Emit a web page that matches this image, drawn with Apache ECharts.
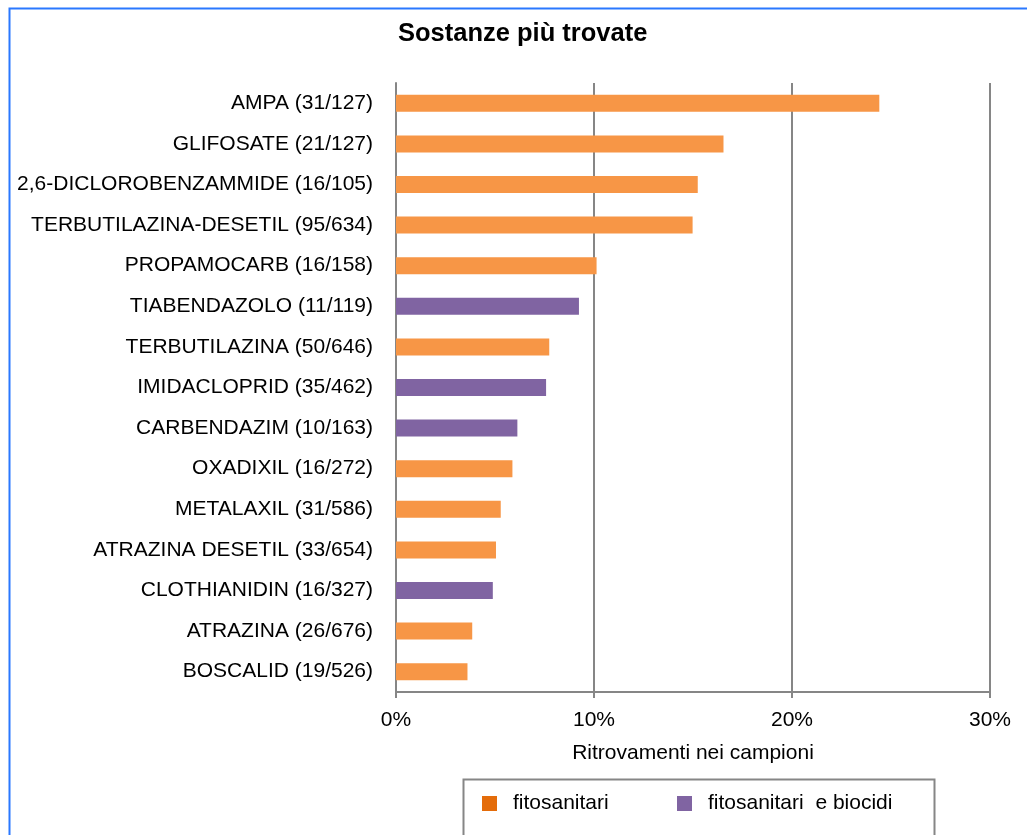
<!DOCTYPE html>
<html>
<head>
<meta charset="utf-8">
<title>Sostanze più trovate</title>
<script src="https://cdn.jsdelivr.net/npm/echarts@6/dist/echarts.min.js"></script>
<style>
  html, body { margin: 0; padding: 0; background: #fff; }
  #main { width: 1027px; height: 835px; }
</style>
</head>
<body>
<div id="main"></div>
<script>
var FONT = '"Liberation Sans", Arial, sans-serif'

// sostanze, dall'alto in basso
var categorie = ['AMPA (31/127)', 'GLIFOSATE (21/127)', '2,6-DICLOROBENZAMMIDE (16/105)',
  'TERBUTILAZINA-DESETIL (95/634)', 'PROPAMOCARB (16/158)', 'TIABENDAZOLO (11/119)',
  'TERBUTILAZINA (50/646)', 'IMIDACLOPRID (35/462)', 'CARBENDAZIM (10/163)',
  'OXADIXIL (16/272)', 'METALAXIL (31/586)', 'ATRAZINA DESETIL (33/654)',
  'CLOTHIANIDIN (16/327)', 'ATRAZINA (26/676)', 'BOSCALID (19/526)']

// % ritrovamenti, '-' dove la sostanza appartiene all'altro gruppo
var fitosanitari = [24.41, 16.54, 15.24, 14.98, 10.13, '-', 7.74, '-', '-', 5.88, 5.29, 5.05, '-', 3.85, 3.61]
var fitoBiocidi  = ['-', '-', '-', '-', '-', 9.24, '-', 7.58, 6.13, '-', '-', '-', 4.89, '-', '-']

var xTicks = [0, 10, 20, 30]

var myChart = echarts.init(document.getElementById('main'))

var grigio = '#868686'

var option = {
  backgroundColor: '#fff',
  animation: false,
  title: {
    text: 'Sostanze più trovate',
    left: 398,
    top: 21,
    padding: 0,
    textStyle: { fontFamily: FONT, fontSize: 25.5, fontWeight: 'bold', color: '#000' }
  },
  graphic: [
    { type: 'rect', left: 7, top: 6, silent: true,
      shape: { x: 0, y: 0, width: 1100, height: 1000 },
      style: { fill: 'none', stroke: '#2a78ff', lineWidth: 2 } },
    { type: 'rect', left: 461, top: 777, silent: true,
      shape: { x: 0, y: 0, width: 471, height: 57 },
      style: { fill: 'none', stroke: grigio, lineWidth: 2 } }
  ],
  legend: [
    { data: [{ name: 'fitosanitari', itemStyle: { color: '#E46C0A' } }],
      left: 482, top: 793, padding: 0, itemWidth: 15, itemHeight: 15, icon: 'rect',
      textStyle: { fontFamily: FONT, fontSize: 21, color: '#000', padding: [0, 0, 0, 11] } },
    { data: [{ name: 'fitosanitari  e biocidi', itemStyle: { color: '#8064A2' } }],
      left: 677, top: 793, padding: 0, itemWidth: 15, itemHeight: 15, icon: 'rect',
      textStyle: { fontFamily: FONT, fontSize: 21, color: '#000', padding: [0, 0, 0, 11] } }
  ],
  grid: { left: 396, right: 37, top: 83, bottom: 143, outerBoundsMode: 'none', containLabel: false },
  xAxis: {
    type: 'value',
    min: xTicks[0], max: xTicks[xTicks.length - 1], interval: 10,
    name: 'Ritrovamenti nei campioni',
    nameLocation: 'middle',
    nameGap: 51,
    nameTextStyle: { fontFamily: FONT, fontSize: 21, color: '#000' },
    axisLine: { show: true, lineStyle: { color: grigio, width: 2 } },
    axisTick: { show: true, length: 6, lineStyle: { color: grigio, width: 2 } },
    axisLabel: { formatter: '{value}%', margin: 18, fontFamily: FONT, fontSize: 21, color: '#000' },
    splitLine: { show: true, lineStyle: { color: grigio, width: 2 } }
  },
  yAxis: {
    type: 'category',
    data: categorie,
    inverse: true,
    axisLine: { show: true, lineStyle: { color: grigio, width: 2 } },
    axisTick: { show: false },
    axisLabel: { margin: 23, fontFamily: FONT, fontSize: 21, color: '#000' }
  },
  series: [
    { name: 'fitosanitari', type: 'bar', stack: 'tot', data: fitosanitari,
      barWidth: 17, itemStyle: { color: '#F79646' } },
    { name: 'fitosanitari  e biocidi', type: 'bar', stack: 'tot', data: fitoBiocidi,
      barWidth: 17, itemStyle: { color: '#8064A2' } }
  ]
}

myChart.setOption(option)
</script>
</body>
</html>
